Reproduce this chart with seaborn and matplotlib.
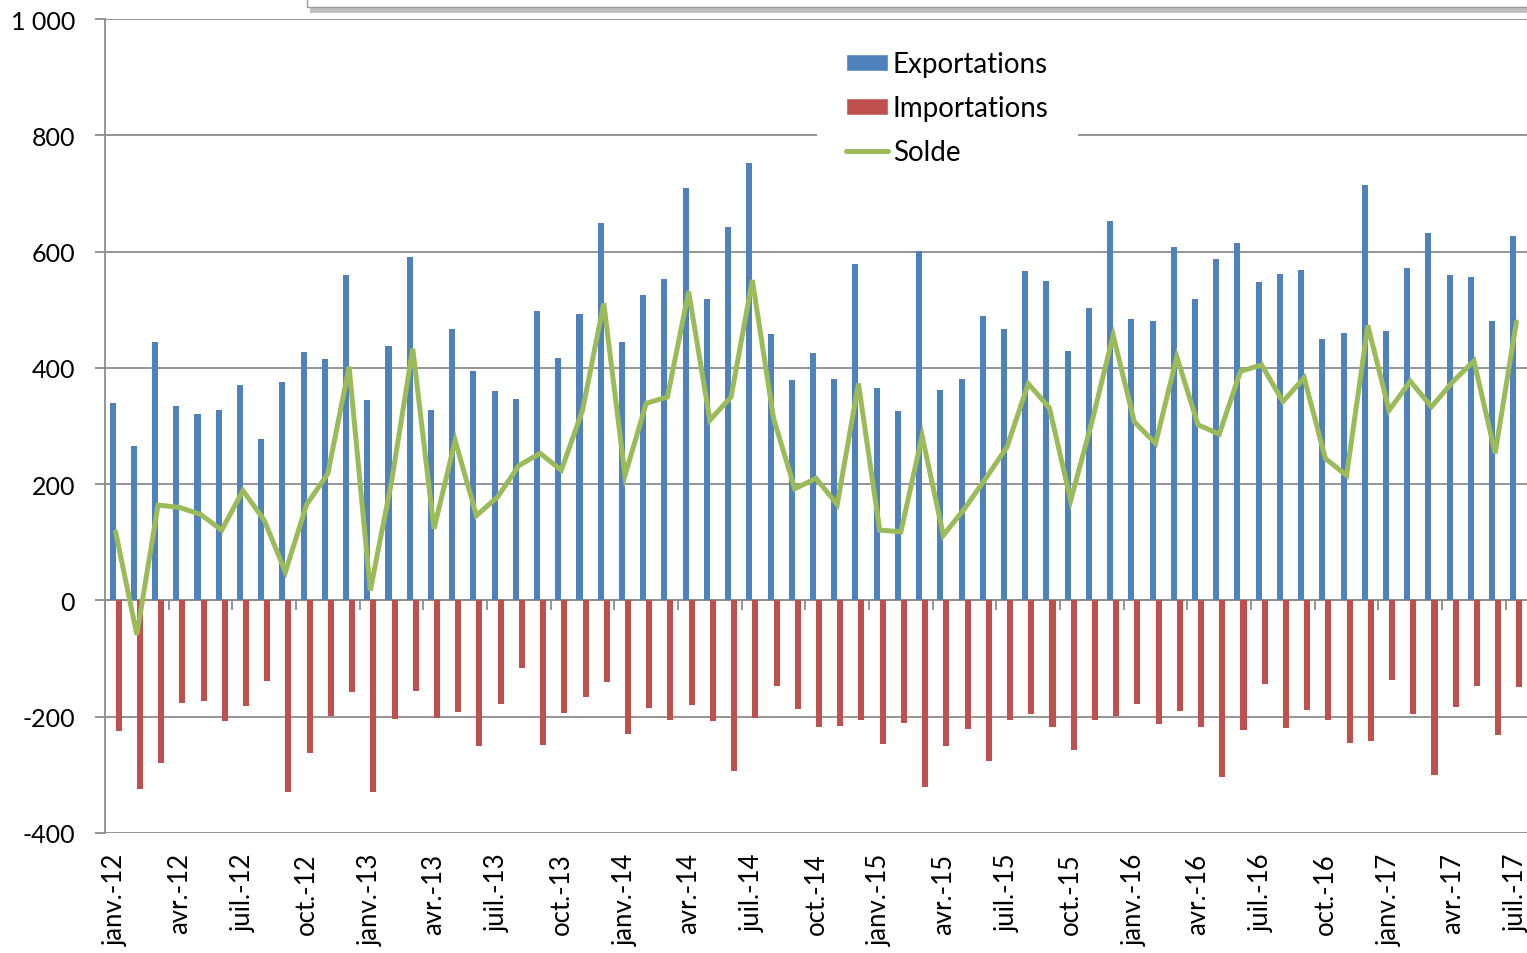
import numpy as np
import pandas as pd
import matplotlib
matplotlib.use('Agg')
import matplotlib.pyplot as plt
import matplotlib.patheffects as pe
from matplotlib.patches import Patch, Rectangle
from matplotlib.lines import Line2D
import seaborn as sns

# valeurs mensuelles, janv.-12 -> juil.-17
exportations = [340, 265, 444, 335, 320, 328, 370, 278, 375, 428, 415, 559,
                345, 437, 590, 328, 467, 394, 360, 347, 497, 417, 492, 650,
                445, 525, 553, 709, 518, 642, 752, 459, 379, 426, 381, 578,
                366, 325, 601, 362, 380, 489, 467, 566, 549, 429, 503, 653,
                484, 480, 608, 518, 588, 615, 548, 561, 569, 449, 460, 714,
                463, 571, 632, 559, 557, 481, 627]
importations = [-224, -325, -280, -177, -173, -208, -182, -139, -329, -263, -199, -157,
                -329, -204, -156, -203, -192, -251, -178, -116, -248, -193, -166, -141,
                -229, -185, -205, -180, -207, -294, -202, -147, -186, -218, -216, -206,
                -247, -210, -321, -250, -221, -277, -205, -195, -217, -257, -206, -198,
                -178, -213, -191, -218, -303, -222, -144, -219, -188, -206, -245, -241,
                -137, -195, -301, -183, -147, -231, -149]
solde = [118, -59, 164, 160, 148, 121, 189, 138, 49, 165, 218, 402,
         17, 204, 433, 123, 275, 146, 178, 232, 253, 224, 327, 511,
         215, 339, 350, 531, 310, 350, 551, 313, 192, 210, 165, 373,
         121, 118, 283, 112, 158, 210, 264, 373, 331, 172, 307, 456,
         307, 270, 419, 302, 286, 394, 405, 342, 383, 244, 215, 473,
         327, 377, 333, 376, 412, 253, 479]

tick_labels = ['janv.-12', 'avr.-12', 'juil.-12', 'oct.-12',
               'janv.-13', 'avr.-13', 'juil.-13', 'oct.-13',
               'janv.-14', 'avr.-14', 'juil.-14', 'oct.-14',
               'janv.-15', 'avr.-15', 'juil.-15', 'oct.-15',
               'janv.-16', 'avr.-16', 'juil.-16', 'oct.-16',
               'janv.-17', 'avr.-17', 'juil.-17']
y_ticks = [-400, -200, 0, 200, 400, 600, 800, 1000]
y_tick_labels = ['-400', '-200', '0', '200', '400', '600', '800', '1 000']

BLUE, RED, GREEN, GRID = '#4F81BD', '#C0504D', '#9BBB59', '#8C8C8C'

n = len(exportations)
mois = np.arange(n)
df = pd.DataFrame({
    'mois': np.concatenate([mois, mois]),
    'valeur': exportations + importations,
    'serie': ['Exportations'] * n + ['Importations'] * n,
})

sns.set_theme(style='white')
plt.rcParams['font.family'] = ['Lato', 'DejaVu Sans']

W, H = 1527, 954
fig = plt.figure(figsize=(W / 100, H / 100), dpi=100)
ax = fig.add_axes([105 / W, 1 - 834 / H, 1 - 105 / W, (834 - 20) / H])

sns.barplot(data=df, x='mois', y='valeur', hue='serie',
            palette={'Exportations': BLUE, 'Importations': RED},
            width=0.57, saturation=1, legend=False, linewidth=0,
            ax=ax, zorder=2)
sns.pointplot(x=mois, y=solde, color=GREEN, markers='', linewidth=3.6,
              errorbar=None, ax=ax)
for l in ax.lines:
    l.set_zorder(3)
    l.set_linewidth(3.6)
    l.set_solid_joinstyle('miter')

# axes
ax.set_xlim(-0.5, n - 0.5)
ax.set_ylim(-400, 1000)
ax.set_xlabel('')
ax.set_ylabel('')
ax.set_axisbelow(True)
ax.yaxis.grid(True, color=GRID, linewidth=1.3)
ax.axhline(0, color=GRID, linewidth=1.3, zorder=1.5)
ax.vlines(np.arange(-0.5, n, 3), -16, 0, color=GRID, linewidth=1.3, zorder=1.5)
for s in ['top', 'right', 'bottom']:
    ax.spines[s].set_visible(False)
ax.spines['left'].set_color(GRID)
ax.spines['left'].set_linewidth(1.3)

ax.set_yticks(y_ticks)
ax.set_yticklabels(y_tick_labels, fontsize=18, color='black')
ax.tick_params(axis='y', left=True, length=7.5, width=1.3, color=GRID, pad=14)
ax.set_xticks(mois[::3])
ax.set_xticklabels(tick_labels, rotation=90, fontsize=18.5, color='black')
ax.tick_params(axis='x', length=0, pad=14)

handles = [Patch(facecolor=BLUE), Patch(facecolor=RED),
           Line2D([], [], color=GREEN, linewidth=3.6)]
leg = ax.legend(handles, ['Exportations', 'Importations', 'Solde'],
                loc='upper left', bbox_to_anchor=(817 / W, 1 - 23 / H),
                bbox_transform=fig.transFigure, fontsize=20, frameon=True,
                facecolor='white', edgecolor='none', framealpha=1, fancybox=False,
                borderpad=1.05, handlelength=1.5, handleheight=0.6,
                handletextpad=0.18, labelspacing=0.65, borderaxespad=0)
for t in leg.get_texts():
    t.set_color('black')

# bord du cadre de titre coupé en haut
fig.add_artist(Rectangle((307 / W, 1 - 8 / H), 1.0, 0.05,
                         transform=fig.transFigure, facecolor='white',
                         edgecolor='#9a9a9a', linewidth=1,
                         path_effects=[pe.SimplePatchShadow(offset=(2, -4), alpha=0.35),
                                       pe.Normal()]))

fig.savefig('out.png', dpi=100)
